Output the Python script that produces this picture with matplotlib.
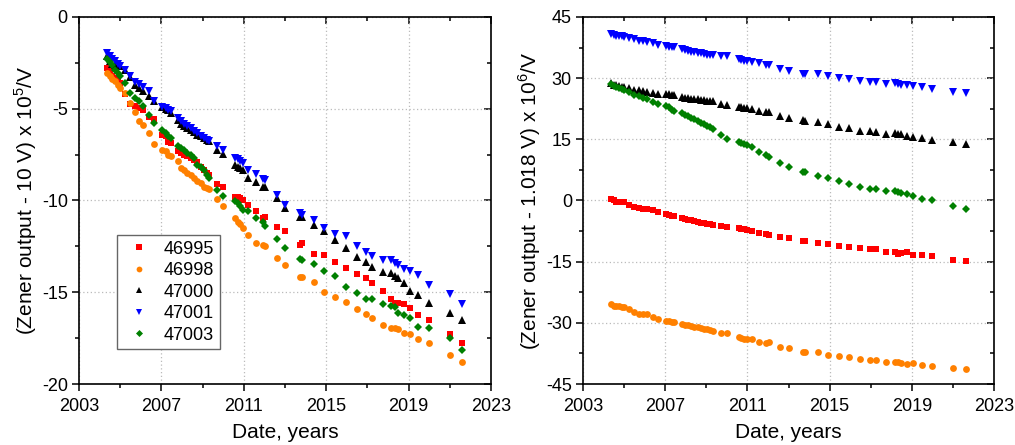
import matplotlib
matplotlib.use("Agg")
import matplotlib.pyplot as plt
from matplotlib.ticker import MultipleLocator

plt.rcParams['font.family'] = ['Liberation Sans', 'DejaVu Sans']
plt.rcParams['mathtext.fontset'] = 'custom'
plt.rcParams['mathtext.rm'] = 'Liberation Sans'
plt.rcParams['axes.unicode_minus'] = False

# measurement dates (decimal years), shared by all standards
dates = [2004.35, 2004.50, 2004.62, 2004.75, 2004.88, 2005.00, 2005.25, 2005.50, 2005.72, 2005.92,
         2006.12, 2006.40, 2006.64, 2007.04, 2007.20, 2007.34, 2007.45, 2007.80, 2007.95, 2008.10,
         2008.26, 2008.42, 2008.58, 2008.75, 2008.90, 2009.05, 2009.20, 2009.30, 2009.70, 2010.00,
         2010.58, 2010.70, 2010.82, 2010.98, 2011.22, 2011.58, 2011.92, 2012.03, 2012.60, 2013.00,
         2013.72, 2013.81, 2014.43, 2014.91, 2015.45, 2015.94, 2016.47, 2016.95, 2017.24, 2017.76,
         2018.16, 2018.32, 2018.49, 2018.78, 2019.06, 2019.47, 2019.97, 2020.99, 2021.61]

# 10 V outputs, (U - 10 V) x 1e5 / V
v10_46995 = [-2.78, -2.95, -3.20, -3.33, -3.45, -3.60, -4.18, -4.73, -4.88, -4.97,
             -5.06, -5.46, -5.55, -6.42, -6.51, -6.79, -6.85, -7.33, -7.42, -7.51,
             -7.60, -7.69, -7.82, -7.90, -8.15, -8.33, -8.51, -8.60, -9.09, -9.24,
             -9.79, -9.82, -9.88, -9.97, -10.24, -10.57, -10.97, -10.92, -11.46, -11.64,
             -12.42, -12.33, -12.91, -12.97, -13.33, -13.69, -14.00, -14.24, -14.48, -14.93,
             -15.39, -15.57, -15.57, -15.64, -15.88, -16.24, -16.51, -17.25, -17.75]
v10_46998 = [-3.05, -3.24, -3.40, -3.51, -3.69, -3.87, -4.15, -4.69, -5.20, -5.69,
             -5.87, -6.33, -6.91, -7.24, -7.33, -7.51, -7.60, -7.87, -8.24, -8.33,
             -8.51, -8.60, -8.78, -8.96, -9.05, -9.24, -9.30, -9.38, -9.91, -10.29,
             -10.96, -11.15, -11.27, -11.51, -11.87, -12.29, -12.45, -12.47, -13.15, -13.51,
             -14.18, -14.15, -14.42, -14.96, -15.27, -15.51, -15.93, -16.18, -16.38, -16.78,
             -16.96, -16.93, -17.00, -17.24, -17.27, -17.55, -17.78, -18.42, -18.78]
v10_47000 = [-2.15, -2.42, -2.55, -2.60, -2.65, -2.69, -2.88, -3.30, -3.69, -3.88,
             -4.06, -4.33, -4.60, -4.91, -5.00, -5.06, -5.24, -5.60, -5.82, -5.93,
             -6.06, -6.18, -6.29, -6.42, -6.51, -6.60, -6.69, -6.75, -7.24, -7.46,
             -8.06, -8.15, -8.24, -8.33, -8.79, -9.02, -9.24, -9.28, -9.88, -10.42,
             -10.88, -10.92, -11.33, -11.64, -12.15, -12.60, -13.09, -13.37, -13.60, -13.88,
             -13.93, -14.11, -14.24, -14.51, -14.91, -15.15, -15.60, -16.15, -16.51]
v10_47001 = [-1.96, -2.15, -2.30, -2.42, -2.55, -2.65, -2.91, -3.24, -3.56, -3.64,
             -3.82, -4.05, -4.60, -4.91, -4.96, -5.05, -5.15, -5.51, -5.69, -5.82,
             -5.96, -6.05, -6.24, -6.33, -6.51, -6.60, -6.69, -6.78, -7.05, -7.24,
             -7.69, -7.75, -7.87, -7.96, -8.33, -8.55, -8.84, -8.91, -9.69, -10.24,
             -10.69, -10.78, -11.05, -11.51, -11.84, -11.96, -12.47, -12.82, -13.05, -13.27,
             -13.27, -13.42, -13.51, -13.75, -13.82, -14.05, -14.60, -15.11, -15.64]
v10_47003 = [-2.29, -2.45, -2.62, -2.87, -3.05, -3.20, -3.60, -4.15, -4.42, -4.60,
             -4.87, -5.33, -5.78, -6.15, -6.33, -6.51, -6.60, -7.05, -7.15, -7.27,
             -7.42, -7.51, -7.69, -8.05, -8.15, -8.33, -8.60, -8.78, -9.45, -9.78,
             -10.05, -10.15, -10.29, -10.51, -10.60, -10.96, -11.15, -11.38, -12.11, -12.60,
             -13.20, -13.24, -13.47, -13.82, -14.11, -14.69, -15.05, -15.36, -15.38, -15.65,
             -15.75, -15.82, -16.15, -16.24, -16.38, -16.87, -16.96, -17.51, -18.15]

# 1.018 V outputs, (U - 1.018 V) x 1e6 / V
v1_46995 = [0.3, 0.0, -0.3, -0.45, -0.3, -0.4, -1.1, -1.5, -1.8, -2.1,
            -2.2, -2.3, -2.9, -3.4, -3.55, -3.7, -3.8, -4.4, -4.55, -4.75,
            -4.85, -5.0, -5.2, -5.4, -5.5, -5.7, -5.85, -6.0, -6.25, -6.5,
            -6.8, -7.0, -7.05, -7.2, -7.5, -7.9, -8.3, -8.4, -9.0, -9.2,
            -9.9, -9.9, -10.35, -10.6, -11.1, -11.3, -11.7, -11.9, -12.0, -12.55,
            -12.7, -13.0, -12.95, -12.7, -13.3, -13.3, -13.6, -14.5, -14.8]
v1_46998 = [-25.4, -25.8, -25.9, -25.8, -26.0, -26.2, -26.6, -27.3, -27.8, -27.9,
            -27.9, -28.5, -29.1, -29.5, -29.55, -29.7, -29.8, -30.3, -30.45, -30.6,
            -30.8, -30.9, -31.1, -31.3, -31.6, -31.4, -31.75, -31.9, -32.4, -32.6,
            -33.4, -33.8, -33.95, -34.0, -34.0, -34.8, -35.0, -34.6, -35.85, -36.2,
            -37.15, -37.05, -37.2, -37.9, -38.1, -38.3, -38.9, -39.0, -39.1, -39.7,
            -39.5, -39.6, -39.8, -40.1, -39.9, -40.3, -40.6, -41.15, -41.4]
v1_47000 = [28.8, 28.3, 28.2, 28.0, 27.9, 27.9, 27.6, 27.1, 27.1, 26.9,
            26.5, 26.4, 26.1, 26.0, 26.0, 25.9, 25.8, 25.3, 25.1, 25.1,
            24.9, 24.8, 24.8, 24.7, 24.6, 24.5, 24.4, 24.4, 23.7, 23.4,
            22.9, 22.8, 22.6, 22.6, 22.4, 21.9, 21.7, 21.7, 20.6, 20.2,
            19.7, 19.6, 19.2, 18.8, 18.1, 17.8, 17.1, 17.1, 16.9, 16.4,
            16.6, 16.4, 16.2, 15.9, 15.6, 15.3, 14.8, 14.3, 13.9]
v1_47001 = [40.9, 40.6, 40.4, 40.3, 40.2, 40.1, 39.8, 39.5, 39.2, 39.1,
            38.9, 38.5, 38.1, 37.9, 37.7, 37.6, 37.6, 37.1, 36.9, 36.7,
            36.5, 36.4, 36.2, 36.1, 35.9, 35.75, 35.7, 35.6, 35.5, 35.3,
            34.6, 34.5, 34.3, 34.2, 34.0, 33.6, 33.3, 33.2, 32.3, 31.8,
            31.0, 31.0, 30.9, 30.5, 30.1, 29.9, 29.2, 29.0, 29.0, 28.5,
            28.7, 28.5, 28.3, 28.2, 28.1, 27.8, 27.3, 26.7, 26.3]
v1_47003 = [28.5, 28.1, 27.8, 27.5, 27.3, 27.1, 26.5, 25.9, 25.5, 25.1,
            24.8, 24.2, 23.7, 23.25, 22.8, 22.2, 22.0, 21.4, 21.0, 20.7,
            20.3, 19.9, 19.5, 19.1, 18.7, 18.3, 17.9, 17.6, 16.1, 15.0,
            14.4, 14.1, 13.9, 13.6, 13.0, 12.0, 11.2, 10.6, 9.1, 8.1,
            6.9, 6.9, 6.0, 5.5, 4.8, 4.05, 3.2, 2.9, 2.9, 2.4,
            2.3, 2.1, 1.8, 1.6, 1.2, 0.4, 0.0, -1.4, -2.2]

labels = ["46995", "46998", "47000", "47001", "47003"]
year_ticks = [2003, 2007, 2011, 2015, 2019, 2023]
year_minor = [2005, 2009, 2013, 2017, 2021]

styles = [("s", "#FF0000", 4.6), ("o", "#FF8000", 4.9), ("^", "#000000", 5.5),
          ("v", "#0000FF", 5.5), ("D", "#008000", 4.2)]

fig = plt.figure(figsize=(10.15, 4.45), dpi=100)
ax1 = fig.add_axes([0.0778, 0.137, 0.406, 0.825])
ax2 = fig.add_axes([0.5744, 0.137, 0.405, 0.825])


def style_axes(ax, ymin, ymax, ymaj, ylabel):
    ax.set_xlim(2003, 2023)
    ax.set_ylim(ymin, ymax)
    ax.set_xticks(year_ticks)
    ax.set_xticks(year_minor, minor=True)
    ax.yaxis.set_major_locator(MultipleLocator(ymaj))
    ax.yaxis.set_minor_locator(MultipleLocator(ymaj / 2))
    ax.grid(True, which="major", color="#bbbbbb", linestyle=(0, (1, 2)), linewidth=0.9)
    ax.set_axisbelow(True)
    ax.tick_params(which="both", direction="out", top=False, right=False,
                   labelsize=13, width=1.1)
    ax.tick_params(axis="x", which="both", pad=5)
    ax.tick_params(axis="y", which="both", pad=3)
    ax.tick_params(which="major", length=5)
    ax.tick_params(which="minor", length=3)
    # inward ticks on the top and right borders
    sec_x = ax.secondary_xaxis("top")
    sec_x.set_xticks(year_ticks)
    sec_x.set_xticks(year_minor, minor=True)
    sec_x.tick_params(which="both", direction="in", labeltop=False, width=1.1)
    sec_x.tick_params(which="major", length=5)
    sec_x.tick_params(which="minor", length=3)
    sec_y = ax.secondary_yaxis("right")
    sec_y.yaxis.set_major_locator(MultipleLocator(ymaj))
    sec_y.yaxis.set_minor_locator(MultipleLocator(ymaj / 2))
    sec_y.tick_params(which="both", direction="in", labelright=False, width=1.1)
    sec_y.tick_params(which="major", length=5)
    sec_y.tick_params(which="minor", length=3)
    for sp in ax.spines.values():
        sp.set_linewidth(1.2)
    for s in (sec_x, sec_y):
        for sp in s.spines.values():
            sp.set_linewidth(0)
    ax.set_xlabel("Date, years", fontsize=15, labelpad=6)
    ax.set_ylabel(ylabel, fontsize=15, labelpad=2)


left_data = [v10_46995, v10_46998, v10_47000, v10_47001, v10_47003]
right_data = [v1_46995, v1_46998, v1_47000, v1_47001, v1_47003]

for vals, lab, (m, c, ms) in zip(left_data, labels, styles):
    ax1.plot(dates, vals, linestyle="none", marker=m, color=c, markersize=ms,
             markeredgewidth=0, label=lab)
for vals, (m, c, ms) in zip(right_data, styles):
    ax2.plot(dates, vals, linestyle="none", marker=m, color=c, markersize=ms,
             markeredgewidth=0)

style_axes(ax1, -20, 0, 5, r"(Zener output - 10 V) x 10$^{5}$/V")
style_axes(ax2, -45, 45, 15, r"(Zener output - 1.018 V) x 10$^{6}$/V")

leg = ax1.legend(loc="lower left", bbox_to_anchor=(0.092, 0.095), borderaxespad=0,
                 fontsize=13, frameon=True, fancybox=False, edgecolor="#666666",
                 framealpha=1, handletextpad=0.5, labelspacing=0.25, borderpad=0.3,
                 markerscale=0.85, handlelength=1.8)
leg.get_frame().set_linewidth(1.0)

fig.savefig("out.png", dpi=100)
